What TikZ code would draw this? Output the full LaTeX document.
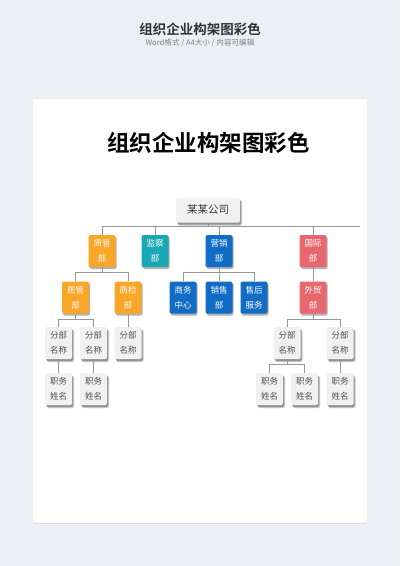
\documentclass[tikz,border=0pt]{standalone}
\usepackage{fontspec}
\setmainfont{Noto Sans CJK SC}[BoldFont={Noto Sans CJK SC Bold}]
\usepackage{tikz}
\usetikzlibrary{positioning,shadows,calc}
\definecolor{pagebg}{RGB}{236,239,244}
\definecolor{deptorange}{RGB}{250,166,40}
\definecolor{deptteal}{RGB}{26,168,180}
\definecolor{deptblue}{RGB}{16,108,196}
\definecolor{deptred}{RGB}{232,104,112}
\definecolor{unitgray}{RGB}{241,241,241}
\definecolor{unittext}{RGB}{80,80,80}
\definecolor{linegray}{RGB}{150,150,150}
\tikzstyle{dept}=[rounded corners=1.5pt,minimum width=27pt,minimum height=32pt,inner sep=0pt,align=center,text=white,font=\fontsize{8.5}{15}\selectfont,drop shadow={shadow xshift=1.2pt,shadow yshift=-2pt,opacity=0.3,fill=black}]
\tikzstyle{unit}=[dept,fill=unitgray,text=unittext,drop shadow={shadow xshift=2pt,shadow yshift=-3pt,opacity=0.3,fill=black!70}]
\tikzstyle{link}=[draw=linegray,line width=0.6pt]

\begin{document}
\begin{tikzpicture}[x=1pt,y=-1pt]
\tikzstyle{orangedept}=[dept,fill=deptorange]
\tikzstyle{tealdept}=[dept,fill=deptteal]
\tikzstyle{bluedept}=[dept,fill=deptblue]
\tikzstyle{reddept}=[dept,fill=deptred]
\tikzstyle{rootbox}=[unit,minimum width=64pt,minimum height=25pt,font=\fontsize{10.5}{12}\selectfont,text=black!80]
    \fill[pagebg] (0,0) rectangle (400,566);
    \useasboundingbox (0,0) rectangle (400,566);
    \fill[white,drop shadow={shadow xshift=0pt,shadow yshift=-1pt,opacity=0.08,fill=black}] (33,99) rectangle (367,523);

\node (head) at (200,29) {\fontsize{13.5}{15}\selectfont\bfseries\color{black!80}组织企业构架图彩色};
\node (sub) at (200,42.5) {\fontsize{7.6}{9}\selectfont\color{black!50}Word格式 / A4大小 / 内容可编辑};
\node (title) at (208.5,143) {\fontsize{22.5}{25}\selectfont\bfseries 组织企业构架图彩色};

\node [rootbox] (gs) at (208,210) {某某公司};

\node [orangedept] (zg) at (102,251) {质管\\部};
\node [tealdept] (jc) at (155,251) {监察\\部};
\node [bluedept] (yx) at (219,251) {营销\\部};
\node [reddept] (gj) at (313,251) {国际\\部};

\node [orangedept] (zg2) at (75.5,297.5) {质管\\部};
\node [orangedept] (zj) at (128,297.5) {质检\\部};
\node [bluedept] (sw) at (183,297.5) {商务\\中心};
\node [bluedept] (xs) at (219,297.5) {销售\\部};
\node [bluedept] (sh) at (254,297.5) {售后\\服务};
\node [reddept] (wm) at (313,297.5) {外贸\\部};

\node [unit] (fb1) at (58.5,343) {分部\\名称};
\node [unit] (fb2) at (93.5,343) {分部\\名称};
\node [unit] (fb3) at (128,343) {分部\\名称};
\node [unit] (fb4) at (287,343) {分部\\名称};
\node [unit] (fb5) at (340,343) {分部\\名称};

\node [unit] (zw1) at (58.5,389) {职务\\姓名};
\node [unit] (zw2) at (93.5,389) {职务\\姓名};
\node [unit] (zw3) at (269.5,389) {职务\\姓名};
\node [unit] (zw4) at (304.5,389) {职务\\姓名};
\node [unit] (zw5) at (340,389) {职务\\姓名};

\coordinate (busend) at (360,226.5);
\foreach \c in {zg,jc,yx,gj}
  \draw [link] (gs.south) -- ++(0,4) -| (\c.north);
\draw [link] (gs.south |- busend) -- (busend);
\foreach \c in {zg2,zj}
  \draw [link] (zg.south) -- ++(0,5) -| (\c.north);
\foreach \c in {sw,xs,sh}
  \draw [link] (yx.south) -- ++(0,5) -| (\c.north);
\draw [link] (gj.south) -- (wm.north);
\foreach \c in {fb1,fb2}
  \draw [link] (zg2.south) -- ++(0,5.5) -| (\c.north);
\draw [link] (zj.south) -- (fb3.north);
\foreach \c in {fb4,fb5}
  \draw [link] (wm.south) -- ++(0,5.5) -| (\c.north);
\draw [link] (fb1.south) -- (zw1.north);
\draw [link] (fb2.south) -- (zw2.north);
\foreach \c in {zw3,zw4}
  \draw [link] (fb4.south) -- ++(0,5) -| (\c.north);
\draw [link] (fb5.south) -- (zw5.north);
\end{tikzpicture}
\end{document}
